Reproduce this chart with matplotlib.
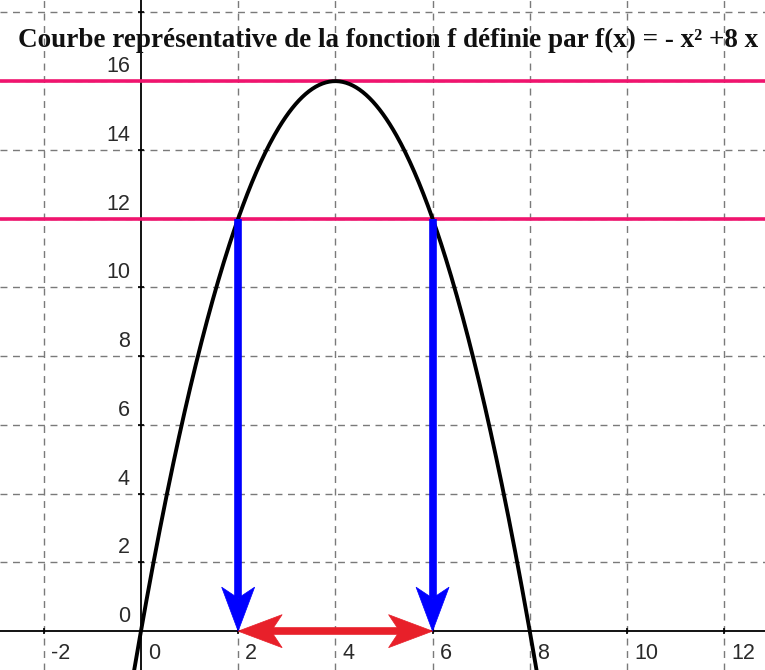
import matplotlib.pyplot as plt
import numpy as np
from matplotlib.patches import Polygon

plt.rcParams["figure.dpi"] = 100
plt.rcParams["savefig.dpi"] = 100

# data
x_ticks = [-2, 0, 2, 4, 6, 8, 10, 12]
y_ticks = [0, 2, 4, 6, 8, 10, 12, 14, 16]
levels = [16, 12]          # horizontal reference lines
roots_12 = [2, 6]          # solutions of f(x) = 12
title = "Courbe représentative de la fonction f définie par f(x) = - x² +8 x"


def f(x):
    return -x**2 + 8*x


fig = plt.figure(figsize=(7.65, 6.70), facecolor="white")
ax = fig.add_axes([0, 0, 1, 1])
ax.set_xlim(-2.90, 12.84)
ax.set_ylim(-1.13, 18.36)
ax.axis("off")

# dashed grid
grid_kw = dict(color="#7a7a7a", lw=1.0, linestyle=(0, (5, 4)), zorder=1)
grid_x = [t for t in x_ticks if t != 0]
grid_y = [t for t in y_ticks if t != 0] + [18]
for gx in grid_x:
    ax.axvline(gx, **grid_kw)
for gy in grid_y:
    ax.axhline(gy, **grid_kw)

# axes
ax.axhline(0, color="black", lw=1.3, zorder=2)
ax.axvline(0, color="black", lw=1.3, zorder=2)
ax.plot(grid_x, [0]*len(grid_x), ls="none", marker="|",
        ms=5, mew=1.2, color="black", zorder=2)
ax.plot([0]*len(grid_y), grid_y, ls="none", marker="_",
        ms=5, mew=1.2, color="black", zorder=2)

# tick labels
lab_kw = dict(fontsize=15.5, color="#2a2a2a", family="Liberation Sans")
for t in x_ticks:
    ax.annotate(str(t), (t, 0), xytext=(7, -12), textcoords="offset pixels",
                ha="left", va="top", **lab_kw)
for t in y_ticks:
    ax.annotate(str(t), (0, t), xytext=(-11, 4), textcoords="offset pixels",
                ha="right", va="bottom", **lab_kw)

# horizontal lines y = 16 and y = 12
for lv in levels:
    ax.axhline(lv, color="#f0146e", lw=2.6, zorder=3)

# parabola
xs = np.linspace(-0.6, 8.6, 400)
ax.plot(xs, f(xs), color="black", lw=2.8, zorder=4)

fig.canvas.draw()


def arrow_head(tip, direction, color, L=44, N=33, W=33):
    # barbed arrow head drawn in pixel space, tip at a data point
    p = ax.transData.transform(tip)
    d = np.asarray(direction, float)
    d = d / np.hypot(*d)
    n = np.array([-d[1], d[0]])
    pts = [p, p - L*d + W/2*n, p - N*d, p - L*d - W/2*n]
    ax.add_patch(Polygon(pts, closed=True, facecolor=color, edgecolor=color,
                         lw=0.5, transform=None, zorder=6))
    return ax.transData.inverted().transform(p - N*d)


def arrow(start, end, color, double=False):
    s = np.asarray(ax.transData.transform(start))
    e = np.asarray(ax.transData.transform(end))
    d = e - s
    e2 = arrow_head(end, d, color)
    s2 = arrow_head(start, -d, color) if double else start
    ax.plot([s2[0], e2[0]], [s2[1], e2[1]], color=color, lw=5.5,
            solid_capstyle="butt", zorder=5)


for r in roots_12:
    arrow((r, f(r)), (r, 0), "#0000ff")
arrow((roots_12[0], 0), (roots_12[1], 0), "#e8202a", double=True)

# title
fig.text(18/765, 1 - 40/670, title, fontsize=19.5, fontweight="bold",
         family="Liberation Serif", ha="left", va="center", color="#111111")

fig.savefig("out.png")
